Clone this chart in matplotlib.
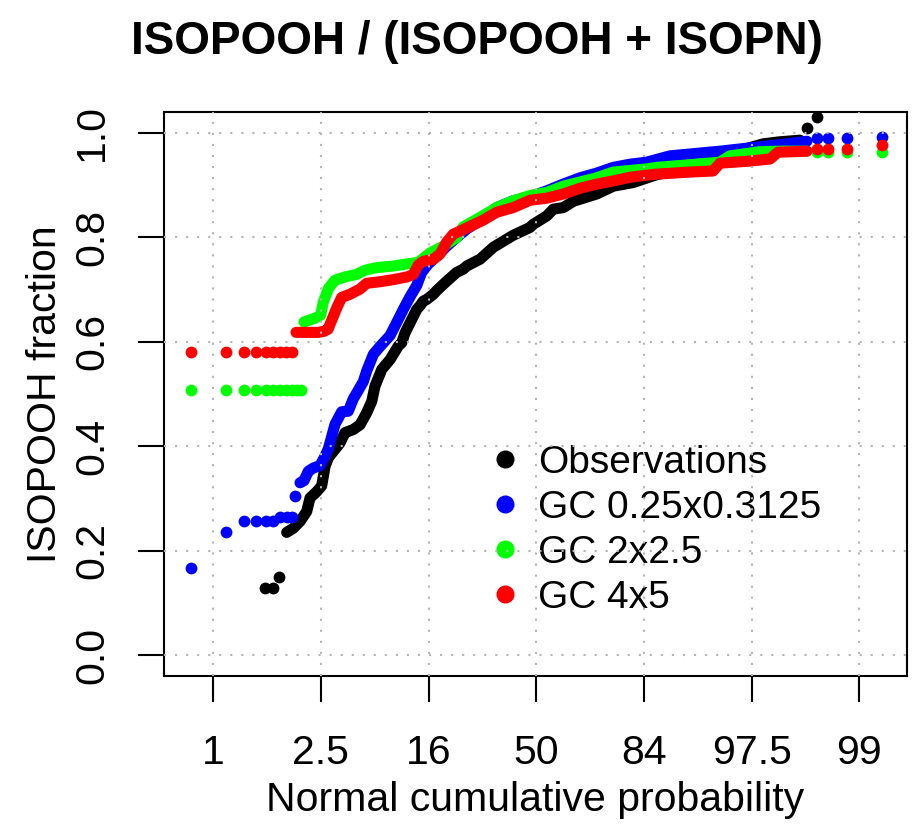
"""Normal probability plot of ISOPOOH fraction: observations vs three GC resolutions."""
import matplotlib
matplotlib.use("Agg")
import matplotlib.pyplot as plt
from matplotlib.lines import Line2D

plt.rcParams["font.family"] = ["Liberation Sans", "DejaVu Sans"]

# axis ticks (normal quantile) and their labels
tick_z = [-3, -2, -1, 0, 1, 2, 3]
tick_labels = ["1", "2.5", "16", "50", "84", "97.5", "99"]
ytick_vals = [0.0, 0.2, 0.4, 0.6, 0.8, 1.0]

# observations: isolated dots in the tails, dense band in between
obs_dots_z = [-2.519, -2.442, -2.386, 2.516, 2.604]
obs_dots_y = [0.129, 0.129, 0.149, 1.009, 1.030]
obs_z = [-2.318, -2.256, -2.194, -2.132, -2.101, -2.039, -1.993, -1.962, -1.931, -1.885,
         -1.823, -1.776, -1.699, -1.637, -1.575, -1.528, -1.498, -1.435, -1.358, -1.281,
         -1.250, -1.219, -1.173, -1.110, -1.080, -1.049, -1.018, -0.956, -0.925, -0.832,
         -0.739, -0.678, -0.646, -0.553, -0.523, -0.399, -0.214, -0.058, -0.028, 0.097,
         0.158, 0.251, 0.344, 0.406, 0.561, 0.715, 0.901, 1.118, 1.427, 1.706,
         1.938, 2.105, 2.263, 2.449]
obs_y = [0.235, 0.243, 0.256, 0.275, 0.301, 0.313, 0.324, 0.361, 0.378, 0.390,
         0.406, 0.426, 0.432, 0.441, 0.464, 0.486, 0.515, 0.547, 0.566, 0.592,
         0.598, 0.617, 0.636, 0.662, 0.669, 0.678, 0.681, 0.691, 0.698, 0.716,
         0.733, 0.739, 0.745, 0.755, 0.758, 0.781, 0.804, 0.819, 0.825, 0.841,
         0.854, 0.857, 0.869, 0.873, 0.883, 0.898, 0.905, 0.920, 0.933, 0.950,
         0.969, 0.979, 0.983, 0.986]

# GC 0.25x0.3125
blue_dots_z = [-3.209, -2.881, -2.714, -2.603, -2.510, -2.442, -2.380, -2.316, -2.270, -2.240,
               2.604, 2.711, 2.882, 3.213]
blue_dots_y = [0.167, 0.236, 0.256, 0.256, 0.256, 0.256, 0.264, 0.264, 0.264, 0.304,
               0.990, 0.990, 0.990, 0.993]
blue_z = [-2.194, -2.157, -2.117, -2.073, -2.008, -1.962, -1.931, -1.869, -1.807, -1.746,
          -1.699, -1.653, -1.606, -1.575, -1.513, -1.451, -1.358, -1.296, -1.235, -1.173,
          -1.110, -1.064, -1.003, -0.925, -0.832, -0.739, -0.646, -0.523, -0.368, -0.214,
          -0.028, 0.097, 0.251, 0.406, 0.561, 0.715, 0.870, 1.025, 1.241, 1.706,
          2.012, 2.328, 2.513]
blue_y = [0.330, 0.334, 0.352, 0.358, 0.363, 0.381, 0.395, 0.442, 0.466, 0.467,
          0.491, 0.507, 0.524, 0.544, 0.576, 0.591, 0.612, 0.637, 0.662, 0.686,
          0.708, 0.733, 0.749, 0.764, 0.783, 0.800, 0.816, 0.832, 0.857, 0.870,
          0.880, 0.889, 0.902, 0.914, 0.923, 0.934, 0.940, 0.944, 0.956, 0.965,
          0.972, 0.979, 0.984]

# GC 2x2.5
green_dots_z = [-3.206, -2.881, -2.717, -2.603, -2.510, -2.442, -2.380, -2.324, -2.271, -2.225,
                -2.187, 2.604, 2.711, 2.882, 3.213]
green_dots_y = [0.507, 0.507, 0.507, 0.507, 0.507, 0.507, 0.507, 0.507, 0.507, 0.507,
                0.507, 0.963, 0.963, 0.963, 0.964]
green_z = [-2.157, -2.055, -2.002, -1.978, -1.931, -1.869, -1.760, -1.668, -1.591, -1.482,
           -1.328, -1.203, -1.096, -0.987, -0.864, -0.739, -0.678, -0.523, -0.368, -0.214,
           -0.058, 0.097, 0.251, 0.406, 0.561, 0.715, 0.870, 1.025, 1.118, 1.427,
           1.706, 1.798, 2.077, 2.263, 2.513]
green_y = [0.638, 0.645, 0.651, 0.676, 0.702, 0.718, 0.725, 0.729, 0.737, 0.742,
           0.745, 0.749, 0.752, 0.770, 0.783, 0.800, 0.820, 0.838, 0.857, 0.870,
           0.880, 0.886, 0.898, 0.906, 0.914, 0.925, 0.928, 0.931, 0.934, 0.939,
           0.944, 0.956, 0.964, 0.965, 0.965]

# GC 4x5
red_dots_z = [-3.206, -2.881, -2.717, -2.603, -2.510, -2.442, -2.380, -2.324, -2.271,
              2.604, 2.711, 2.882, 3.213]
red_dots_y = [0.580, 0.580, 0.580, 0.580, 0.580, 0.580, 0.580, 0.580, 0.580,
              0.969, 0.969, 0.969, 0.976]
red_z = [-2.231, -2.157, -2.092, -2.027, -1.971, -1.934, -1.853, -1.807, -1.730, -1.637,
         -1.575, -1.451, -1.328, -1.203, -1.142, -1.096, -1.049, -0.956, -0.894, -0.832,
         -0.771, -0.646, -0.492, -0.368, -0.214, -0.058, 0.097, 0.251, 0.406, 0.561,
         0.715, 0.870, 1.025, 1.118, 1.427, 1.641, 1.706, 1.984, 2.170, 2.244,
         2.513]
red_y = [0.618, 0.618, 0.618, 0.618, 0.620, 0.624, 0.665, 0.685, 0.691, 0.701,
         0.712, 0.715, 0.719, 0.724, 0.729, 0.747, 0.754, 0.758, 0.768, 0.791,
         0.806, 0.818, 0.833, 0.848, 0.857, 0.871, 0.875, 0.883, 0.894, 0.902,
         0.908, 0.915, 0.919, 0.921, 0.925, 0.927, 0.942, 0.946, 0.950, 0.963,
         0.965]

labels = ["Observations", "GC 0.25x0.3125", "GC 2x2.5", "GC 4x5"]
colors = ["black", "#0000FF", "#00FF00", "#FF0000"]

series = [
    (obs_z, obs_y, obs_dots_z, obs_dots_y),
    (blue_z, blue_y, blue_dots_z, blue_dots_y),
    (green_z, green_y, green_dots_z, green_dots_y),
    (red_z, red_y, red_dots_z, red_dots_y),
]

fig = plt.figure(figsize=(9.17, 8.27), dpi=100)
ax = fig.add_axes([164 / 917, 151 / 827, 743 / 917, 564 / 827])

DOT = 8.0  # dot diameter in points
for (bz, by, dz, dy), col in zip(series, colors):
    ax.plot(bz, by, color=col, lw=DOT, solid_capstyle="round", solid_joinstyle="round", zorder=2)
    ax.plot(dz, dy, ls="none", marker="o", ms=DOT + 0.5, mew=0, color=col, zorder=2)

ax.set_xlim(-3.457, 3.442)
ax.set_ylim(-0.04, 1.04)

# R-style dotted grid, drawn over the points
for z in tick_z:
    ax.axvline(z, color="#b4b4b4", lw=1.5, ls=(0, (1, 4.3)), zorder=6)
for v in ytick_vals:
    ax.axhline(v, color="#b4b4b4", lw=1.5, ls=(0, (1, 4.3)), zorder=6)

ax.set_xticks(tick_z)
ax.set_xticklabels(tick_labels)
ax.set_yticks(ytick_vals)
ax.set_yticklabels([f"{v:.1f}" for v in ytick_vals])
ax.tick_params(axis="both", length=19, width=1.5, labelsize=29.5)
ax.tick_params(axis="x", pad=23)
ax.tick_params(axis="y", pad=19)
plt.setp(ax.get_yticklabels(), rotation=90, va="center")
for s in ax.spines.values():
    s.set_linewidth(1.5)

ax.set_xlabel("Normal cumulative probability", fontsize=29.5, va="center")
ax.xaxis.set_label_coords(0.5, -0.220)
ax.set_ylabel("ISOPOOH fraction", fontsize=29.5, va="center")
ax.yaxis.set_label_coords(-0.160, 0.5)

handles = [Line2D([], [], ls="none", marker="o", ms=13, mew=0, color=c) for c in colors]
ax.legend(handles, labels, loc="upper left", bbox_to_anchor=(0.4327, 0.4096),
          bbox_transform=ax.transAxes, frameon=False, fontsize=28, borderpad=0,
          handlelength=1.0, handletextpad=0.35, labelspacing=0.23, borderaxespad=0)

fig.text(477 / 917, 1 - 42 / 827, "ISOPOOH / (ISOPOOH + ISOPN)", ha="center", va="center",
         fontsize=33, fontweight="bold")

fig.savefig("out.png", dpi=100)
